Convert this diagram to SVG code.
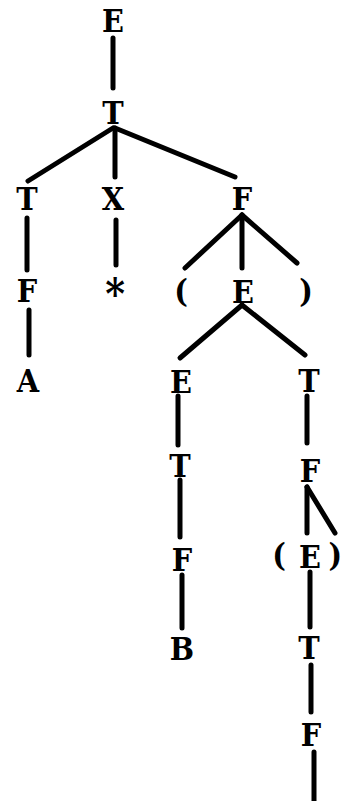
<svg xmlns="http://www.w3.org/2000/svg" width="343" height="801" viewBox="0 0 343 801">
<style>
text{font-family:"DejaVu Serif Condensed","DejaVu Serif",serif;font-stretch:condensed;font-weight:bold;font-size:32px;text-anchor:middle;fill:#000}
.e line{stroke:#000;stroke-width:5;stroke-linecap:round}
</style>
<rect width="343" height="801" fill="#fff"/>
<g class="e" id="connectors">
<line x1="113" y1="38" x2="113" y2="88"/>
<line x1="113" y1="128" x2="28" y2="181"/>
<line x1="115" y1="128" x2="115" y2="177"/>
<line x1="115" y1="128" x2="235" y2="177"/>
<line x1="27" y1="218" x2="27" y2="270"/>
<line x1="116" y1="220" x2="116" y2="265"/>
<line x1="29" y1="310" x2="29" y2="355"/>
<line x1="242" y1="215" x2="185" y2="268"/>
<line x1="242" y1="215" x2="242" y2="268"/>
<line x1="242" y1="215" x2="297" y2="263"/>
<line x1="242" y1="305" x2="180" y2="358"/>
<line x1="242" y1="305" x2="305" y2="355"/>
<line x1="178" y1="396" x2="178" y2="445"/>
<line x1="307" y1="396" x2="307" y2="443"/>
<line x1="180" y1="480" x2="180" y2="537"/>
<line x1="307" y1="487" x2="307" y2="533"/>
<line x1="307" y1="487" x2="335" y2="533"/>
<line x1="182" y1="575" x2="182" y2="628"/>
<line x1="310" y1="572" x2="310" y2="627"/>
<line x1="311" y1="665" x2="311" y2="712"/>
<line x1="314" y1="752" x2="314" y2="805"/>
</g>
<g id="n1"><text x="113" y="32">E</text></g>
<g id="n2"><text x="113" y="124">T</text></g>
<g id="n3"><text x="27" y="210">T</text></g>
<g id="n4"><text x="113" y="210">X</text></g>
<g id="n5"><text x="242" y="210">F</text></g>
<g id="n6"><text x="27" y="302">F</text></g>
<g id="n7"><text x="115" y="309" style="font-size:42px">*</text></g>
<g id="n8"><text x="28" y="392">A</text></g>
<g id="n9"><text x="181" y="302">(</text></g>
<g id="n10"><text x="243" y="303">E</text></g>
<g id="n11"><text x="306" y="302">)</text></g>
<g id="n12"><text x="181" y="393">E</text></g>
<g id="n13"><text x="309" y="392">T</text></g>
<g id="n14"><text x="180" y="477">T</text></g>
<g id="n15"><text x="310" y="482">F</text></g>
<g id="n16"><text x="182" y="571">F</text></g>
<g id="n17"><text x="279" y="566">(</text></g>
<g id="n18"><text x="310" y="568">E</text></g>
<g id="n19"><text x="342" y="566" style="text-anchor:end">)</text></g>
<g id="n20"><text x="182" y="660">B</text></g>
<g id="n21"><text x="309" y="659">T</text></g>
<g id="n22"><text x="311" y="746">F</text></g>
</svg>
